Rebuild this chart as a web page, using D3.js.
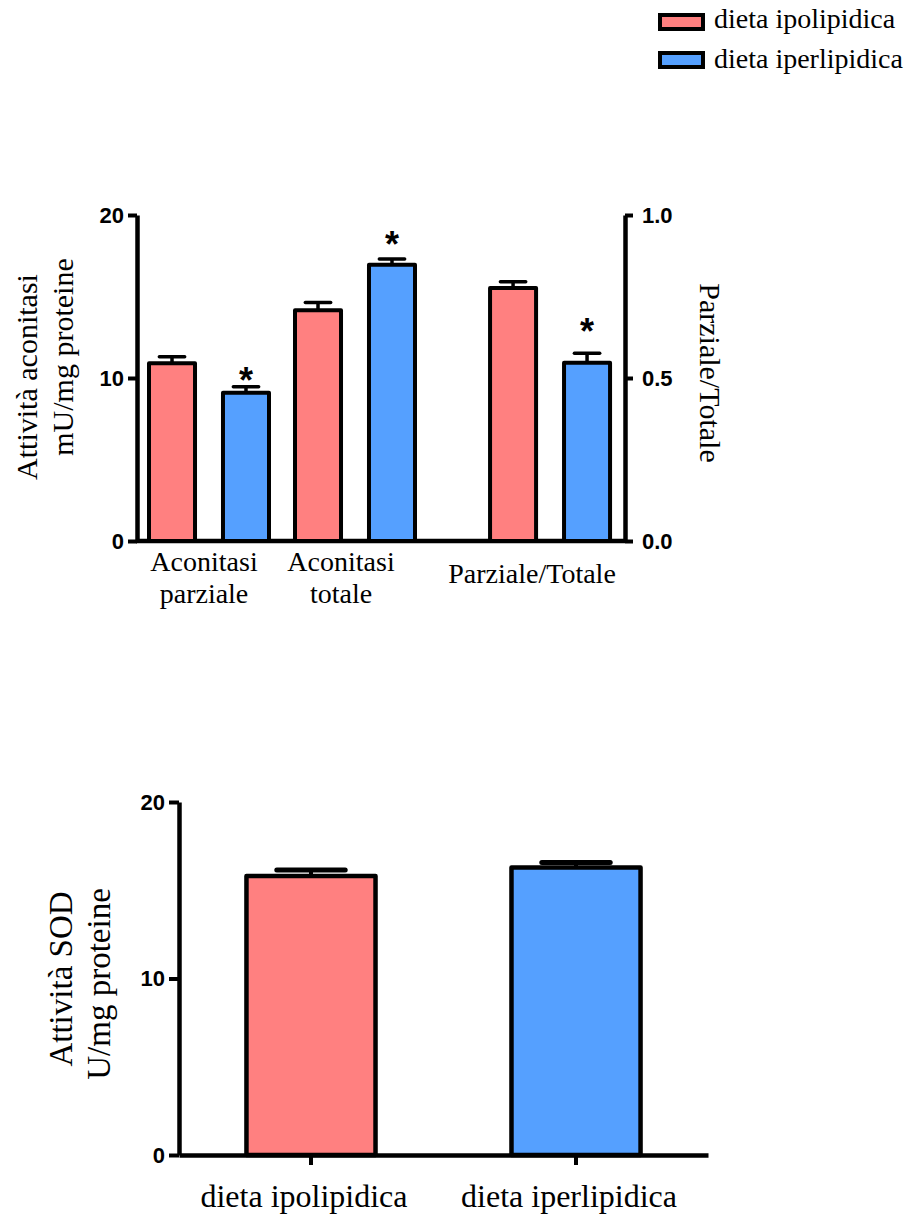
<!DOCTYPE html>
<html><head><meta charset="utf-8">
<script src="https://cdn.jsdelivr.net/npm/d3@7"></script>
<style>body{margin:0;background:#fff} svg{display:block}</style>
</head><body>
<script>
// ---------- data ----------
const series = ["dieta ipolipidica", "dieta iperlipidica"];
const seriesColors = ["#ff8080", "#55a0ff"];

const topCategories = ["Aconitasi parziale", "Aconitasi totale", "Parziale/Totale"];
const topLabelLines = [["Aconitasi", "parziale"], ["Aconitasi", "totale"], ["Parziale/Totale"]];
const topIpo = [10.9, 14.15, 0.776];
const topIpoErr = [0.4, 0.48, 0.019];
const topIper = [9.1, 16.95, 0.547];
const topIperErr = [0.37, 0.35, 0.029];
const topIperSig = [true, true, true];
const topUsesRightAxis = [false, false, true];
const leftTicks = [0, 10, 20];
const rightTicks = [0, 0.5, 1.0];

const sodCategories = ["dieta ipolipidica", "dieta iperlipidica"];
const sodValues = [15.81, 16.29];
const sodErr = [0.34, 0.28];
const sodTicks = [0, 10, 20];

// ---------- drawing ----------
const W = 916, H = 1218;
const svg = d3.select("body").append("svg").attr("width", W).attr("height", H);
const serif = "'Liberation Serif','Times New Roman',serif";
const sans = "'Liberation Sans',Arial,sans-serif";

// Legend
const leg = svg.append("g");
series.forEach((s, i) => {
  const y0 = 15 + i * 38;
  leg.append("rect").attr("x", 660).attr("y", y0).attr("width", 43).attr("height", 14)
    .attr("fill", seriesColors[i]).attr("stroke", "#000").attr("stroke-width", 4);
  leg.append("text").attr("x", 714).attr("y", y0 + 13 + i * 2).text(s)
    .attr("font-family", serif).attr("font-size", 28).attr("fill", "#000");
});

// ---------- Top chart ----------
const yL = d3.scaleLinear().domain([0, 20]).range([541, 215]);
const yR = d3.scaleLinear().domain([0, 1]).range([541, 215]);
const gx = d3.scaleLinear().domain([0, 1]).range([209, 355]);
const groupGap = 0.336;
const slot = i => i < 2 ? i : i + groupGap;
const sub = d3.scaleBand().domain(series).range([-60, 60]).paddingInner(0.378);
const labelShift = [-5, -14, -18];
const starGap = [15, 23, 30];

const topG = svg.append("g");
topG.append("line").attr("x1", 136).attr("x2", 625).attr("y1", yL(0)).attr("y2", yL(0))
  .attr("stroke", "#000").attr("stroke-width", 4.5);

topCategories.forEach((c, i) => {
  const y = topUsesRightAxis[i] ? yR : yL;
  const vals = [topIpo[i], topIper[i]];
  const errs = [topIpoErr[i], topIperErr[i]];
  const cx0 = gx(slot(i));
  series.forEach((s, j) => {
    const x = cx0 + sub(s);
    const bw = sub.bandwidth();
    const cx = x + bw / 2;
    const capW = bw * 0.55;
    topG.append("line").attr("x1", cx).attr("x2", cx).attr("y1", y(vals[j])).attr("y2", y(vals[j] + errs[j]))
      .attr("stroke", "#000").attr("stroke-width", 3.5);
    topG.append("line").attr("x1", cx - capW / 2).attr("x2", cx + capW / 2)
      .attr("y1", y(vals[j] + errs[j])).attr("y2", y(vals[j] + errs[j]))
      .attr("stroke", "#000").attr("stroke-width", 3.5).attr("stroke-linecap", "round");
    topG.append("rect").attr("x", x).attr("width", bw).attr("y", y(vals[j]))
      .attr("height", y(0) - y(vals[j])).attr("fill", seriesColors[j])
      .attr("stroke", "#000").attr("stroke-width", 4).attr("stroke-linejoin", "round");
    if (j === 1 && topIperSig[i]) {
      topG.append("text").attr("x", cx).attr("y", y(vals[j] + errs[j]) - starGap[i] + 21)
        .attr("text-anchor", "middle").attr("font-family", sans).attr("font-weight", "bold")
        .attr("font-size", 36).text("*");
    }
  });
  const lines = topLabelLines[i];
  const t = topG.append("text").attr("text-anchor", "middle")
    .attr("font-family", serif).attr("font-size", 28).attr("fill", "#000");
  if (lines.length === 2) {
    t.append("tspan").attr("x", cx0 + labelShift[i]).attr("y", 571).text(lines[0]);
    t.append("tspan").attr("x", cx0 + labelShift[i]).attr("y", 603).text(lines[1]);
  } else {
    t.append("tspan").attr("x", cx0 + labelShift[i]).attr("y", 583).text(lines[0]);
  }
});

function styleAxis(g, fs) {
  g.select(".domain").attr("stroke-width", 4.5).attr("stroke", "#000");
  g.selectAll(".tick line").attr("stroke-width", 4).attr("stroke", "#000");
  g.selectAll(".tick text").attr("font-family", sans).attr("font-weight", "bold")
    .attr("font-size", fs).attr("fill", "#000");
  g.attr("font-size", null).attr("font-family", null);
}

const axL = topG.append("g").attr("transform", "translate(137,0)")
  .call(d3.axisLeft(yL).tickValues(leftTicks).tickFormat(d3.format("d")).tickSize(9).tickSizeOuter(0).tickPadding(4));
styleAxis(axL, 22);
const axR = topG.append("g").attr("transform", "translate(625,0)")
  .call(d3.axisRight(yR).tickValues(rightTicks).tickFormat(d3.format(".1f")).tickSize(8).tickSizeOuter(0).tickPadding(9));
styleAxis(axR, 22);

topG.append("text").attr("transform", "translate(37,377) rotate(-90)").attr("text-anchor", "middle")
  .attr("font-family", serif).attr("font-size", 30).text("Attività aconitasi");
topG.append("text").attr("transform", "translate(73,357) rotate(-90)").attr("text-anchor", "middle")
  .attr("font-family", serif).attr("font-size", 30).text("mU/mg proteine");
topG.append("text").attr("transform", "translate(700,373) rotate(90)").attr("text-anchor", "middle")
  .attr("font-family", serif).attr("font-size", 30).text("Parziale/Totale");

// ---------- Bottom chart ----------
const yS = d3.scaleLinear().domain([0, 20]).range([1155, 802]);
const xS = d3.scaleBand().domain(sodCategories).range([179, 708]).paddingInner(0.513).paddingOuter(0.2545);
const bot = svg.append("g");

const axB = bot.append("g").attr("transform", `translate(0,${yS(0)})`)
  .call(d3.axisBottom(xS).tickSize(10).tickSizeOuter(0).tickPadding(4));
axB.select(".domain").attr("stroke-width", 4.5).attr("stroke", "#000");
axB.selectAll(".tick line").attr("stroke-width", 4).attr("stroke", "#000");
axB.selectAll(".tick text").attr("font-family", serif).attr("font-size", 32).attr("fill", "#000")
  .attr("dy", null).attr("y", 52).attr("x", -7);
axB.attr("font-size", null).attr("font-family", null);

sodCategories.forEach((c, j) => {
  const x = xS(c), bw = xS.bandwidth(), cx = x + bw / 2, capW = bw * 0.53;
  const v = sodValues[j], e = sodErr[j];
  bot.append("line").attr("x1", cx).attr("x2", cx).attr("y1", yS(v)).attr("y2", yS(v + e))
    .attr("stroke", "#000").attr("stroke-width", 4);
  bot.append("line").attr("x1", cx - capW / 2).attr("x2", cx + capW / 2).attr("y1", yS(v + e)).attr("y2", yS(v + e))
    .attr("stroke", "#000").attr("stroke-width", 5).attr("stroke-linecap", "round");
  bot.append("rect").attr("x", x).attr("width", bw).attr("y", yS(v)).attr("height", yS(0) - yS(v))
    .attr("fill", seriesColors[j]).attr("stroke", "#000").attr("stroke-width", 4.5).attr("stroke-linejoin", "round");
});

const axS = bot.append("g").attr("transform", "translate(179,0)")
  .call(d3.axisLeft(yS).tickValues(sodTicks).tickFormat(d3.format("d")).tickSize(10).tickSizeOuter(0).tickPadding(4));
styleAxis(axS, 22);

bot.append("text").attr("transform", "translate(72,979) rotate(-90)").attr("text-anchor", "middle")
  .attr("font-family", serif).attr("font-size", 33).text("Attività SOD");
bot.append("text").attr("transform", "translate(110,984) rotate(-90)").attr("text-anchor", "middle")
  .attr("font-family", serif).attr("font-size", 33).text("U/mg proteine");
</script>
</body></html>
